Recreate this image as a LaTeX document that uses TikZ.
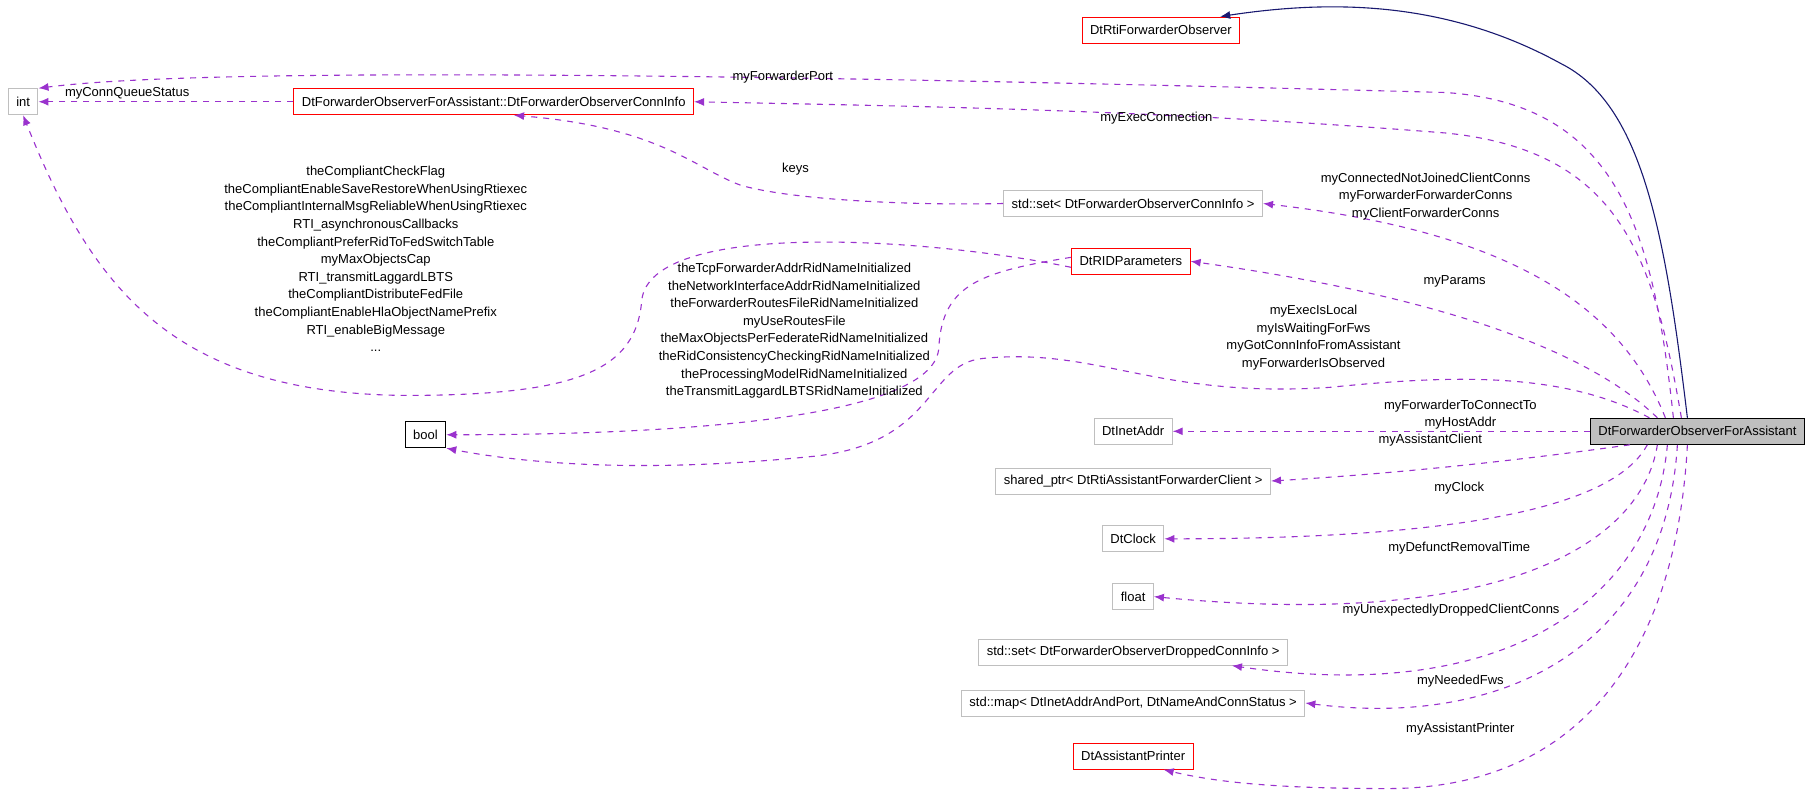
\documentclass[tikz,border=0pt]{standalone}
\usepackage{fontspec}
\setmainfont{Liberation Sans}
\usetikzlibrary{arrows.meta}
\definecolor{pu}{HTML}{9A32CD}
\definecolor{nv}{HTML}{191970}
\begin{document}
\begin{tikzpicture}[x=0.578pt,y=-0.578pt,
  every node/.style={font=\fontsize{6.5}{8.8}\selectfont, inner sep=0pt},
  box/.style={draw, minimum height=13pt, inner xsep=4pt, line width=0.5pt},
  red/.style={box, draw=red},
  gry/.style={box, draw=gray!50},
  lab/.style={align=center},
  rel/.style={draw=pu, dashed, line width=0.55pt, -{Latex[length=5pt,width=4pt]}},
  inh/.style={draw=nv, line width=0.55pt, -{Latex[length=5pt,width=4pt]}}]
\useasboundingbox (0,0) rectangle (1568,688);
\node[red] (obs) at (1004,26) {DtRtiForwarderObserver};
\node[gry] (int) at (20,88) {int};
\node[red] (ci) at (427,88) {DtForwarderObserverForAssistant::DtForwarderObserverConnInfo};
\node[gry] (set1) at (980,176) {std::set< DtForwarderObserverConnInfo >};
\node[red] (rid) at (978,226) {DtRIDParameters};
\node[box, draw=black] (bool) at (368,376) {bool};
\node[gry] (inet) at (980,373) {DtInetAddr};
\node[box, fill=gray!50, draw=black] (main) at (1468,373) {DtForwarderObserverForAssistant};
\node[gry] (sp) at (980,416) {shared\_ptr< DtRtiAssistantForwarderClient >};
\node[gry] (clk) at (980,466) {DtClock};
\node[gry] (flt) at (980,516) {float};
\node[gry] (set2) at (980,564) {std::set< DtForwarderObserverDroppedConnInfo >};
\node[gry] (map) at (980,608) {std::map< DtInetAddrAndPort, DtNameAndConnStatus >};
\node[red] (prn) at (980,654) {DtAssistantPrinter};

\draw[inh] ([xshift=-5]main.north) .. controls (1440,200) and (1420,90) .. (1350,55) .. controls (1250,0) and (1150,0) .. ([xshift=-10]obs.north east);
\draw[rel] ([xshift=-12]main.north) .. controls (1430,200) and (1400,90) .. (1250,80) .. controls (800,68) and (200,55) .. (int.north east);
\draw[rel] ([xshift=-8]main.north) .. controls (1430,220) and (1400,130) .. (1250,115) .. controls (1000,95) and (800,92) .. (ci.east);
\draw[rel] (ci.west) -- (int.east);
\draw[rel] (set1.west) .. controls (780,178) and (680,172) .. (640,160) .. controls (600,145) and (570,110) .. ([xshift=-90]ci.south east);
\draw[rel] ([xshift=-16]main.north) .. controls (1400,260) and (1300,200) .. (set1.east);
\draw[rel] ([xshift=-20]main.north) .. controls (1360,290) and (1200,250) .. (rid.east);
\draw[rel] ([yshift=-3]rid.west) .. controls (800,205) and (562,190) .. (555,260) .. controls (550,320) and (500,342) .. (350,342) .. controls (150,340) and (80,250) .. (int.south);
\draw[rel] ([yshift=2]rid.west) .. controls (850,235) and (815,245) .. (812,300) .. controls (810,360) and (600,376) .. (bool.east);
\draw[rel] ([xshift=-24]main.north) .. controls (1350,320) and (1250,325) .. (1150,335) .. controls (1000,345) and (950,300) .. (850,310) .. controls (800,315) and (810,385) .. (700,395) .. controls (550,410) and (450,400) .. (bool.south east);
\draw[rel] (main.west) -- (inet.east);
\draw[rel] ([xshift=20]main.south west) .. controls (1300,400) and (1200,410) .. (sp.east);
\draw[rel] ([xshift=-25]main.south) .. controls (1400,430) and (1300,466) .. (clk.east);
\draw[rel] ([xshift=-20]main.south) .. controls (1420,470) and (1300,545) .. (flt.east);
\draw[rel] ([xshift=-15]main.south) .. controls (1430,520) and (1300,610) .. ([xshift=-28]set2.south east);
\draw[rel] ([xshift=-10]main.south) .. controls (1440,560) and (1300,630) .. (map.east);
\draw[rel] ([xshift=-5]main.south) .. controls (1450,560) and (1370,682) .. (1200,682) .. controls (1100,682) and (1050,676) .. ([xshift=-15]prn.south east);

\node[lab] at (677,67) {myForwarderPort};
\node[lab] at (110,81) {myConnQueueStatus};
\node[lab] at (1000,102) {myExecConnection};
\node[lab] at (688,146) {keys};
\node[lab] at (1233,170) {myConnectedNotJoinedClientConns\\myForwarderForwarderConns\\myClientForwarderConns};
\node[lab] at (1258,243) {myParams};
\node[lab] at (325,224) {theCompliantCheckFlag\\theCompliantEnableSaveRestoreWhenUsingRtiexec\\theCompliantInternalMsgReliableWhenUsingRtiexec\\RTI\_asynchronousCallbacks\\theCompliantPreferRidToFedSwitchTable\\myMaxObjectsCap\\RTI\_transmitLaggardLBTS\\theCompliantDistributeFedFile\\theCompliantEnableHlaObjectNamePrefix\\RTI\_enableBigMessage\\...};
\node[lab] at (687,286) {theTcpForwarderAddrRidNameInitialized\\theNetworkInterfaceAddrRidNameInitialized\\theForwarderRoutesFileRidNameInitialized\\myUseRoutesFile\\theMaxObjectsPerFederateRidNameInitialized\\theRidConsistencyCheckingRidNameInitialized\\theProcessingModelRidNameInitialized\\theTransmitLaggardLBTSRidNameInitialized};
\node[lab] at (1136,292) {myExecIsLocal\\myIsWaitingForFws\\myGotConnInfoFromAssistant\\myForwarderIsObserved};
\node[lab] at (1263,351) {myForwarderToConnectTo};
\node[lab] at (1263,366) {myHostAddr};
\node[lab] at (1237,381) {myAssistantClient};
\node[lab] at (1262,422) {myClock};
\node[lab] at (1262,474) {myDefunctRemovalTime};
\node[lab] at (1255,528) {myUnexpectedlyDroppedClientConns};
\node[lab] at (1263,589) {myNeededFws};
\node[lab] at (1263,631) {myAssistantPrinter};
\end{tikzpicture}
\end{document}
